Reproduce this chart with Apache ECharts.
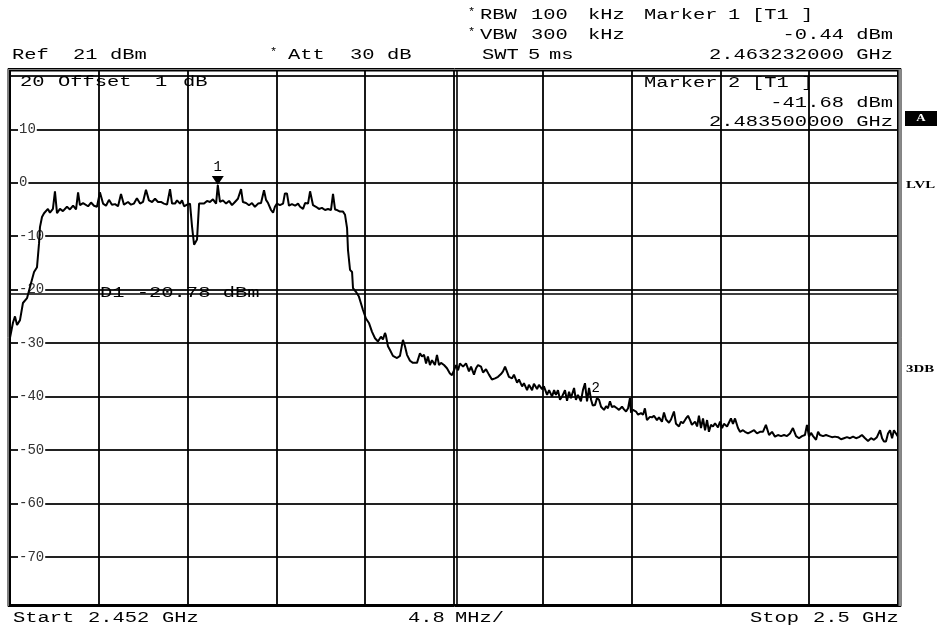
<!DOCTYPE html>
<html><head><meta charset="utf-8">
<script src="https://cdn.jsdelivr.net/npm/echarts@6/dist/echarts.min.js"></script>
<style>html,body{margin:0;padding:0;background:#fff}#c{width:937px;height:627px}</style>
</head><body><div id="c"></div>
<script>
// Axis settings (frequency axis is offset from start, in MHz)
const spanMHz = 48;
const divMHz = 4.8;
const refLevel = 21;
const bottomLevel = -79;
const yGridLevels = [20, 10, 0, -10, -20, -30, -40, -50, -60, -70];
const yTickLabels = [10, 0, -10, -20, -30, -40, -50, -60, -70];
const marker1 = [11.232, -0.44];
const marker2 = [31.5, -41.68];
const displayLine = -20.78;
const extraFreqLine = 24.16;

// Trace: [offset from start (MHz), level (dBm)]
const trace = [
[0.00,-29.0],[0.16,-26.2],[0.27,-25.0],[0.38,-26.6],[0.54,-25.7],[0.70,-22.5],[0.92,-21.6],[1.08,-19.5],[1.30,-16.7],[1.46,-15.8],
[1.57,-11.3],[1.62,-8.3],[1.73,-6.4],[1.84,-5.7],[2.05,-4.9],[2.16,-5.6],[2.32,-4.9],[2.43,-1.6],[2.54,-5.7],[2.70,-4.9],
[2.86,-5.3],[3.08,-4.5],[3.24,-5.0],[3.41,-4.3],[3.57,-5.0],[3.68,-1.8],[3.78,-4.2],[3.95,-3.8],[4.05,-3.6],[4.22,-4.4],
[4.38,-3.7],[4.54,-4.3],[4.70,-4.5],[4.86,-1.8],[5.03,-3.9],[5.19,-4.3],[5.35,-3.2],[5.51,-4.1],[5.68,-4.0],[5.84,-4.4],
[6.00,-2.1],[6.16,-4.1],[6.38,-3.6],[6.54,-4.1],[6.70,-3.9],[6.86,-2.9],[7.03,-3.9],[7.19,-3.6],[7.35,-1.3],[7.51,-3.3],
[7.68,-3.6],[7.84,-3.0],[8.00,-3.6],[8.16,-3.6],[8.32,-3.9],[8.49,-4.1],[8.65,-1.2],[8.76,-3.9],[8.92,-3.9],[9.03,-3.3],
[9.19,-3.9],[9.30,-3.3],[9.41,-4.4],[9.57,-4.1],[9.73,-3.9],[9.84,-8.2],[9.95,-11.6],[10.05,-11.9],[10.11,-10.6],[10.22,-3.9],
[10.32,-3.6],[10.49,-3.9],[10.65,-3.4],[10.81,-3.6],[10.97,-3.1],[11.14,-3.9],[11.232,-0.44],[11.35,-3.6],[11.51,-3.3],[11.68,-3.9],
[11.84,-3.4],[12.00,-4.2],[12.16,-3.6],[12.32,-3.0],[12.49,-1.2],[12.59,-3.6],[12.76,-3.8],[12.92,-4.2],[13.08,-3.8],[13.24,-4.5],
[13.41,-3.9],[13.57,-3.8],[13.73,-1.4],[13.84,-3.2],[13.95,-3.8],[14.11,-5.1],[14.22,-5.6],[14.32,-4.5],[14.43,-3.9],[14.59,-4.2],
[14.76,-3.9],[14.86,-2.0],[14.97,-2.0],[15.08,-4.3],[15.24,-4.0],[15.41,-4.3],[15.57,-3.9],[15.68,-4.5],[15.84,-4.9],[15.95,-3.8],
[16.11,-3.9],[16.22,-1.6],[16.38,-4.2],[16.54,-4.5],[16.70,-4.9],[16.86,-4.7],[17.03,-5.1],[17.19,-4.9],[17.35,-5.1],[17.46,-2.1],
[17.57,-5.0],[17.68,-5.1],[17.84,-5.4],[18.00,-5.4],[18.11,-6.0],[18.22,-8.5],[18.27,-12.6],[18.38,-16.3],[18.49,-16.7],[18.54,-19.7],
[18.70,-20.4],[18.86,-21.3],[19.08,-23.8],[19.24,-25.4],[19.41,-26.3],[19.57,-27.9],[19.73,-29.1],[19.89,-29.7],[20.05,-28.8],[20.16,-29.3],
[20.27,-28.1],[20.32,-28.6],[20.43,-30.6],[20.54,-31.3],[20.70,-32.4],[20.92,-32.8],[21.08,-32.4],[21.24,-29.4],[21.35,-30.6],[21.46,-32.2],
[21.62,-33.3],[21.78,-33.7],[22.00,-33.7],[22.16,-31.9],[22.27,-32.5],[22.38,-32.2],[22.49,-33.8],[22.59,-32.5],[22.70,-34.1],[22.81,-33.2],
[22.97,-34.1],[23.08,-32.2],[23.19,-34.1],[23.30,-33.7],[23.46,-34.1],[23.62,-34.7],[23.78,-35.7],[23.89,-36.0],[24.00,-35.1],[24.11,-34.1],
[24.22,-35.1],[24.32,-33.8],[24.49,-34.4],[24.65,-33.8],[24.81,-35.3],[24.92,-34.4],[25.08,-35.9],[25.19,-34.7],[25.30,-34.1],[25.46,-34.4],
[25.57,-35.5],[25.73,-34.9],[25.89,-35.9],[26.05,-36.8],[26.22,-36.6],[26.38,-36.3],[26.54,-35.8],[26.65,-35.3],[26.76,-34.4],[26.86,-34.1],
[26.97,-36.3],[27.14,-36.6],[27.24,-35.9],[27.41,-37.4],[27.51,-36.8],[27.68,-38.1],[27.78,-37.5],[27.95,-38.8],[28.05,-37.8],[28.22,-38.8],
[28.32,-37.6],[28.49,-38.6],[28.59,-37.8],[28.76,-38.6],[28.86,-38.1],[29.03,-39.7],[29.14,-38.8],[29.30,-40.0],[29.41,-38.8],[29.51,-39.7],
[29.62,-38.8],[29.73,-40.6],[29.84,-40.0],[30.00,-38.8],[30.11,-40.8],[30.22,-39.1],[30.32,-40.3],[30.49,-38.4],[30.59,-40.6],[30.70,-39.7],
[30.86,-40.9],[30.97,-38.8],[31.08,-37.5],[31.19,-40.9],[31.30,-38.4],[31.41,-40.6],[31.50,-41.68],[31.62,-41.6],[31.73,-40.3],[31.84,-40.6],
[31.95,-41.9],[32.11,-42.5],[32.22,-41.8],[32.32,-42.2],[32.43,-40.9],[32.54,-42.0],[32.65,-41.8],[32.81,-42.2],[32.92,-42.5],[33.08,-41.9],
[33.19,-42.4],[33.30,-42.8],[33.41,-42.2],[33.51,-40.3],[33.57,-43.0],[33.68,-42.5],[33.84,-42.8],[33.95,-43.4],[34.11,-43.1],[34.22,-43.4],
[34.32,-42.2],[34.43,-44.4],[34.59,-43.8],[34.70,-43.9],[34.81,-43.6],[34.97,-44.4],[35.08,-43.9],[35.24,-44.7],[35.35,-43.0],[35.46,-44.3],
[35.62,-44.9],[35.73,-44.3],[35.89,-42.8],[36.00,-45.1],[36.16,-45.6],[36.27,-44.7],[36.38,-45.0],[36.54,-44.1],[36.65,-43.6],[36.76,-44.4],
[36.86,-45.3],[37.03,-44.7],[37.14,-45.6],[37.24,-43.6],[37.35,-45.9],[37.46,-44.1],[37.57,-46.3],[37.68,-44.4],[37.78,-46.6],[37.89,-45.3],
[38.00,-45.6],[38.11,-45.0],[38.27,-45.8],[38.38,-44.7],[38.49,-45.9],[38.59,-45.1],[38.76,-45.6],[38.86,-45.3],[38.97,-44.1],[39.08,-45.1],
[39.19,-44.1],[39.35,-45.9],[39.46,-46.6],[39.62,-46.3],[39.73,-46.6],[39.89,-46.9],[40.05,-46.6],[40.22,-46.3],[40.38,-46.9],[40.54,-46.6],
[40.70,-46.6],[40.86,-45.3],[41.03,-47.2],[41.19,-46.6],[41.35,-47.5],[41.51,-47.2],[41.68,-47.4],[41.84,-47.2],[42.00,-47.4],[42.16,-46.9],
[42.32,-45.9],[42.49,-47.4],[42.65,-47.8],[42.81,-47.4],[42.97,-47.2],[43.08,-45.3],[43.19,-47.5],[43.30,-46.8],[43.41,-47.4],[43.57,-48.1],
[43.68,-46.6],[43.78,-47.2],[43.95,-47.4],[44.11,-47.2],[44.27,-47.4],[44.43,-47.6],[44.59,-47.5],[44.76,-47.6],[44.92,-48.0],[45.08,-47.8],
[45.24,-47.6],[45.41,-47.8],[45.57,-47.5],[45.73,-47.8],[45.89,-47.6],[46.05,-47.2],[46.22,-47.8],[46.38,-48.3],[46.54,-47.8],[46.70,-48.1],
[46.86,-47.6],[47.03,-46.3],[47.14,-47.8],[47.24,-48.4],[47.35,-48.4],[47.46,-46.9],[47.57,-46.3],[47.68,-47.8],[47.78,-46.3],[47.89,-46.9],
[48.00,-47.5]
];

const MONO = '"Liberation Mono", "DejaVu Sans Mono", monospace';
const SX = 1.46;

function txt(text, x, y, o) {
  o = o || {};
  return {
    type: 'text', x: x, y: y, scaleX: o.sx || SX, z: 100,
    style: {
      text: text,
      font: (o.weight || 'normal') + ' ' + (o.size || 14) + 'px ' + (o.family || MONO),
      fill: o.fill || '#000',
      textAlign: o.align || 'left',
      textVerticalAlign: 'middle'
    }
  };
}

const chart = echarts.init(document.getElementById('c'));
const gridLeft = 10, gridTop = 70.5, gridRight = 39, gridBottom = 22;

chart.setOption({
  animation: false,
  backgroundColor: '#fff',
  grid: { left: gridLeft, right: gridRight, top: gridTop, bottom: gridBottom,
          show: true, borderColor: '#000', borderWidth: 2, outerBoundsMode: 'none' },
  xAxis: {
    type: 'value', min: 0, max: spanMHz, interval: divMHz,
    axisLine: { show: false }, axisTick: { show: false }, axisLabel: { show: false },
    splitLine: { show: true, lineStyle: { color: '#000', width: 1.8 } }
  },
  yAxis: {
    type: 'value', min: bottomLevel, max: refLevel,
    axisLine: { show: false },
    axisTick: { show: false, customValues: yGridLevels },
    axisLabel: {
      show: true, inside: true, margin: 8, customValues: yTickLabels,
      fontFamily: 'Liberation Mono', fontSize: 14, color: '#333',
      backgroundColor: '#fff', padding: [0, 1, 0, 1]
    },
    splitLine: { show: true, lineStyle: { color: '#222', width: 1.8 } }
  },
  series: [{
    type: 'line', data: trace, showSymbol: false, symbol: 'none',
    lineStyle: { color: '#000', width: 2 }, z: 5,
    markLine: {
      silent: true, symbol: 'none', label: { show: false },
      lineStyle: { color: '#000', width: 1.6, type: 'solid' },
      data: [ { yAxis: displayLine }, { xAxis: extraFreqLine } ]
    },
    markPoint: {
      silent: true,
      data: [
        { coord: marker1, symbol: 'triangle', symbolRotate: 180, symbolSize: [12, 9], symbolOffset: [0, -4.5],
          itemStyle: { color: '#000' },
          label: { show: true, formatter: '1', position: 'top', distance: 2, color: '#000',
                   fontFamily: 'Liberation Mono', fontSize: 14 } },
        { coord: marker2, symbol: 'triangle', symbolRotate: 180, symbolSize: [1, 1],
          itemStyle: { color: '#000' },
          label: { show: true, formatter: '2', position: 'top', distance: 10, offset: [3, 0], color: '#000',
                   fontFamily: 'Liberation Mono', fontSize: 14 } }
      ]
    }
  }]
});

const d1y = chart.convertToPixel({ yAxisIndex: 0 }, displayLine);

const g = [
  // header line 1
  txt('*', 468, 12, { size: 10, sx: 1.2 }), txt('RBW', 480, 15), txt('100', 531, 15), txt('kHz', 588, 15),
  txt('Marker', 644, 15), txt('1', 728, 15), txt('[T1', 752, 15), txt(']', 801, 15),
  // header line 2
  txt('*', 468, 32, { size: 10, sx: 1.2 }), txt('VBW', 480, 35), txt('300', 531, 35), txt('kHz', 588, 35),
  txt('-0.44 dBm', 893, 35, { align: 'right' }),
  // header line 3
  txt('Ref', 12, 55.5), txt('21', 73, 55.5), txt('dBm', 110, 55.5),
  txt('*', 270, 52, { size: 10, sx: 1.2 }), txt('Att', 288, 55.5), txt('30', 350, 55.5), txt('dB', 387, 55.5),
  txt('SWT', 482, 55.5), txt('5', 528, 55.5), txt('ms', 549, 55.5),
  txt('2.463232000 GHz', 893, 55.5, { align: 'right' }),
  // inside top
  txt('20', 20, 82.5), txt('Offset', 58, 82.5), txt('1', 155, 82.5), txt('dB', 183, 82.5),
  txt('Marker', 644, 83), txt('2', 728, 83), txt('[T1', 752, 83), txt(']', 801, 83),
  txt('-41.68 dBm', 893, 103, { align: 'right' }),
  txt('2.483500000 GHz', 893, 122, { align: 'right' }),
  // display line label
  txt('D1 -20.78 dBm', 100, d1y - 1),
  // bottom
  txt('Start', 13, 618), txt('2.452', 88, 618), txt('GHz', 162, 618),
  txt('4.8', 408, 618), txt('MHz/', 455, 618),
  txt('Stop', 750, 618), txt('2.5', 813, 618), txt('GHz', 862, 618),
  // side labels
  { type: 'rect', shape: { x: 905, y: 111, width: 32, height: 15 }, style: { fill: '#000' } },
  txt('A', 921, 118.5, { size: 10, weight: 'bold', family: '"Liberation Serif", serif', fill: '#fff', align: 'center', sx: 1.3 }),
  txt('LVL', 906, 185, { size: 11, weight: 'bold', family: '"Liberation Serif", serif', sx: 1.35 }),
  txt('3DB', 906, 369, { size: 11, weight: 'bold', family: '"Liberation Serif", serif', sx: 1.35 }),
  // outer double frame
  { type: 'rect', shape: { x: 8, y: 68.5, width: 893, height: 538 }, style: { fill: 'none', stroke: '#000', lineWidth: 1 }, z: 50 },
  { type: 'line', shape: { x1: 900, y1: 69, x2: 900, y2: 606 }, style: { stroke: '#888', lineWidth: 3 }, z: 50 }
];
chart.setOption({ graphic: { elements: g } });
</script>
</body></html>
